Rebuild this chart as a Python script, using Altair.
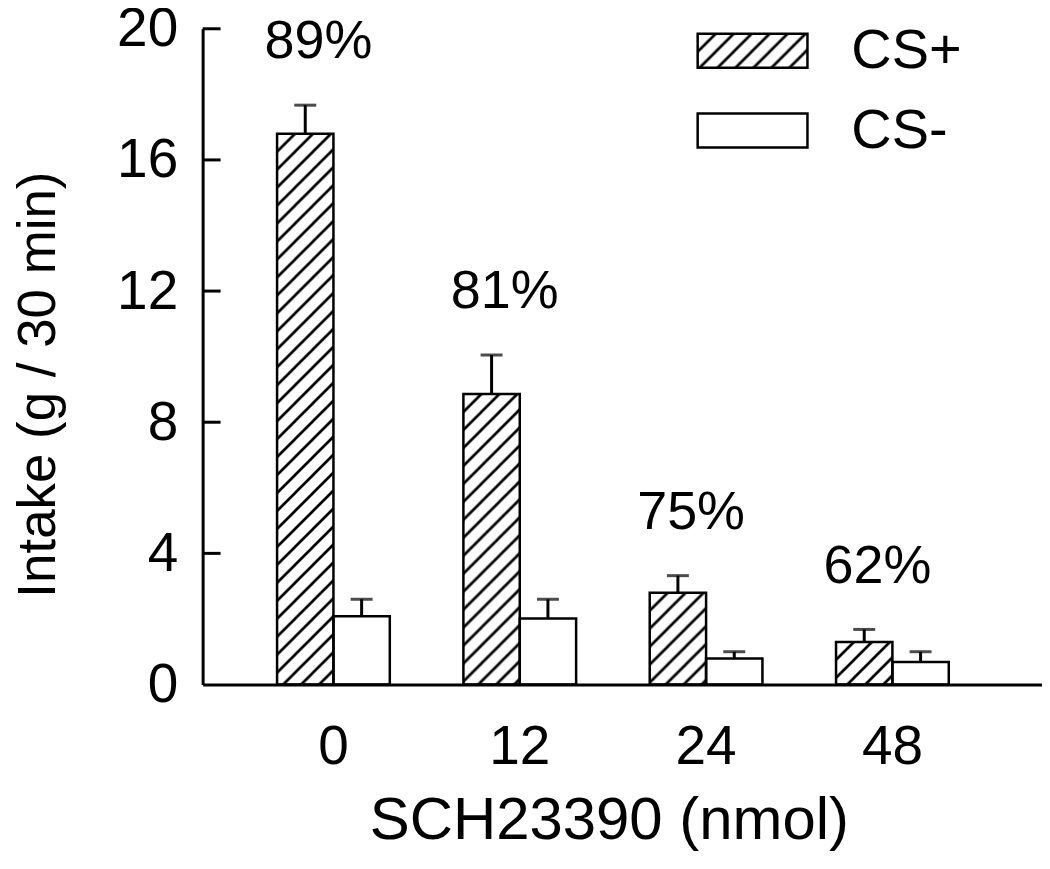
import base64
import altair as alt
import pandas as pd

# ---- data ----
doses = ["0", "12", "24", "48"]
series = ["CS+", "CS-"]
cs_plus = [16.8, 8.86, 2.80, 1.30]
cs_plus_upper = [17.67, 10.05, 3.32, 1.68]
cs_minus = [2.08, 2.01, 0.79, 0.69]
cs_minus_upper = [2.60, 2.60, 1.00, 1.00]
pct_labels = ["89%", "81%", "75%", "62%"]
y_tick_values = [0, 4, 8, 12, 16, 20]

rows = []
for i, d in enumerate(doses):
    rows.append(dict(dose=d, series="CS+", value=cs_plus[i], upper=cs_plus_upper[i]))
    rows.append(dict(dose=d, series="CS-", value=cs_minus[i], upper=cs_minus_upper[i]))
df = pd.DataFrame(rows)
pct_df = pd.DataFrame(dict(dose=doses, label=pct_labels, upper=cs_plus_upper))
tick_df = pd.DataFrame(dict(v=y_tick_values[1:]))
legend_df = pd.DataFrame(dict(series=series))

# hatch pattern as an svg image (style only)
hatch_svg = (
    "<svg xmlns='http://www.w3.org/2000/svg'>"
    "<defs><pattern id='h' width='18' height='18' patternUnits='userSpaceOnUse'>"
    "<path d='M-4,4 L4,-4 M0,18 L18,0 M14,22 L22,14' stroke='black' "
    "stroke-width='2.7'/></pattern></defs>"
    "<rect width='100%' height='100%' fill='url(#h)'/></svg>"
)
hatch_url = "data:image/svg+xml;base64," + base64.b64encode(hatch_svg.encode()).decode()

FONT = "Liberation Sans"

x_scale = alt.Scale(domain=doses, paddingInner=0.395, paddingOuter=0.45, align=0.444)
y_scale = alt.Scale(domain=[0, 20], nice=False)

x_axis = alt.Axis(
    title="SCH23390 (nmol)", labelAngle=0, ticks=False, domainColor="black",
    domainWidth=3, labelFont=FONT, labelFontSize=55, labelColor="black",
    labelPadding=36, titleFont=FONT, titleFontSize=60, titleFontWeight="normal",
    titleColor="black", titleX=407, titleY=136, titleBaseline="middle", grid=False,
)
y_axis = alt.Axis(
    title="Intake (g / 30 min)", values=y_tick_values, ticks=False,
    domainColor="black", domainWidth=3, labelFont=FONT, labelFontSize=55,
    labelColor="black", labelPadding=25, titleFont=FONT, titleFontSize=53,
    titleFontWeight="normal", titleColor="black", titleX=-164, titleY=356,
    titleBaseline="middle", titleAngle=-90, grid=False,
)

x_enc = alt.X("dose:N", scale=x_scale, sort=doses, axis=x_axis)
xoff_enc = alt.XOffset("series:N", scale=alt.Scale(domain=series, paddingInner=0, paddingOuter=0))


def y_enc(field):
    return alt.Y(field, type="quantitative", scale=y_scale, axis=y_axis)


hatched = (
    alt.Chart(df)
    .transform_filter(alt.datum.series == "CS+")
    .mark_image(aspect=False)
    .encode(x=x_enc, xOffset=xoff_enc, y=y_enc("value"), y2=alt.datum(0),
            url=alt.value(hatch_url))
)

outline = (
    alt.Chart(df)
    .mark_bar(fill="white", fillOpacity=0, stroke="black", strokeWidth=2.5)
    .encode(x=x_enc, xOffset=xoff_enc, y=y_enc("value"))
)

err_rule = (
    alt.Chart(df)
    .mark_rule(color="black", strokeWidth=3)
    .encode(x=x_enc, xOffset=xoff_enc, y=y_enc("value"), y2="upper:Q")
)

err_cap = (
    alt.Chart(df)
    .mark_tick(color="black", thickness=3, size=22)
    .encode(x=x_enc, xOffset=xoff_enc, y=y_enc("upper"))
)

pct_text = (
    alt.Chart(pct_df)
    .mark_text(font=FONT, fontSize=54, color="black", dx=-15, dy=-63,
               baseline="middle", align="center")
    .encode(x=x_enc, y=y_enc("upper"), text="label:N")
)

y_ticks = (
    alt.Chart(tick_df)
    .mark_rule(color="black", strokeWidth=3)
    .encode(y=y_enc("v"), x=alt.value(0), x2=alt.value(18))
)

main = alt.layer(hatched, outline, err_rule, err_cap, pct_text, y_ticks)

leg_y = alt.Y(
    "series:N",
    scale=alt.Scale(domain=series, range=[5, 119], paddingInner=0.575, paddingOuter=0),
    axis=None,
)

leg_img = (
    alt.Chart(legend_df)
    .transform_filter(alt.datum.series == "CS+")
    .mark_image(aspect=False)
    .encode(x=alt.value(496), x2=alt.value(606), y=leg_y, url=alt.value(hatch_url))
)
leg_box = (
    alt.Chart(legend_df)
    .mark_rect(fill="white", fillOpacity=0, stroke="black", strokeWidth=2.5)
    .encode(x=alt.value(496), x2=alt.value(606), y=leg_y)
)
leg_text = (
    alt.Chart(legend_df)
    .mark_text(font=FONT, fontSize=56, color="black", align="left", baseline="middle")
    .encode(x=alt.value(650), y=leg_y, text="series:N")
)
legend = alt.layer(leg_img, leg_box, leg_text)

chart = (
    alt.layer(main, legend)
    .resolve_scale(y="independent")
    .properties(
        width=841,
        height=657,
        autosize=alt.AutoSizeParams(type="none"),
        padding={"left": 195, "top": 20, "right": 0, "bottom": 168},
        background="white",
    )
    .configure_view(strokeWidth=0)
)

chart.save("out.html", embed_options={"renderer": "svg", "actions": False})
